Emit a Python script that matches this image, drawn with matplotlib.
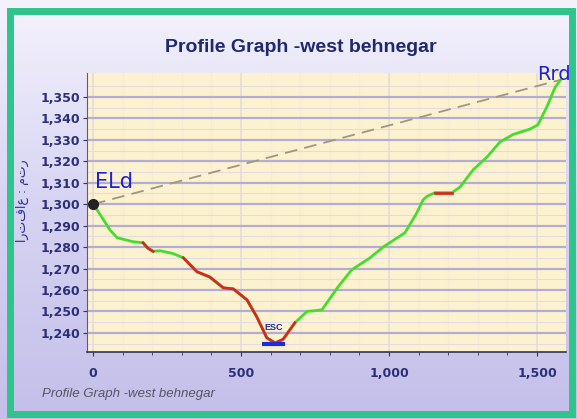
import numpy as np
import matplotlib
matplotlib.use("Agg")
import matplotlib.pyplot as plt
from matplotlib.patches import Rectangle

# profile data (distance in m, elevation in m)
dist = [0, 20, 57, 81, 135, 169, 185, 203, 226, 270, 305, 351, 395, 440, 474,
        520, 553, 587, 615, 642, 682, 723, 773, 828, 874, 936, 980, 1054, 1094,
        1115, 1128, 1155, 1213, 1240, 1284, 1331, 1375, 1419, 1476, 1503, 1534,
        1561, 1580]
elev = [1300, 1296, 1288, 1284.4, 1282.5, 1282, 1279.5, 1278, 1278.3, 1277,
        1275, 1268.5, 1266, 1261, 1260.5, 1255.4, 1247.5, 1237.7, 1235.3, 1237,
        1244.7, 1250, 1250.7, 1261.5, 1269.4, 1275, 1280, 1286.7, 1296, 1302,
        1303.6, 1305.4, 1305.4, 1308, 1316, 1322, 1329, 1332.5, 1335, 1337,
        1345.6, 1354.5, 1358]
# index ranges drawn in red (steep parts)
red_ranges = [(5, 7), (10, 20), (31, 32)]
esc_span = [571, 649]
esc_level = 1235
yticks = [1240, 1250, 1260, 1270, 1280, 1290, 1300, 1310, 1320, 1330, 1340, 1350]
xticks = [0, 500, 1000, 1500]

title = "Profile Graph -west behnegar"
ylabel = "ارتفاع : متر"

plt.rcParams['font.family'] = ['Liberation Sans', 'DejaVu Sans']

fig = plt.figure(figsize=(5.77, 4.19), dpi=100)

# background gradient
bg = fig.add_axes([0, 0, 1, 1], zorder=-10)
grad = np.linspace(0, 1, 256).reshape(-1, 1)
cmap = matplotlib.colors.LinearSegmentedColormap.from_list(
    "bg", ["#c4bfe9", "#d6d3f2", "#f4f3fc"])
bg.imshow(grad, aspect='auto', cmap=cmap, extent=[0, 1, 0, 1], origin='lower')
bg.set_xlim(0, 1)
bg.set_ylim(0, 1)
bg.axis('off')
# green frame
bg.add_patch(Rectangle((0.017, 0.012), 0.975, 0.962, fill=False,
                       edgecolor='#2fc48c', linewidth=5))

ax = fig.add_axes([0.151, 0.160, 0.830, 0.666])
ax.set_facecolor('#fdf2cf')
ax.set_xlim(-20, 1598)
ax.set_ylim(1231.1, 1361.2)

ax.set_yticks(yticks)
ax.set_yticks(np.arange(1235, 1361, 10), minor=True)
ax.set_xticks(xticks)
ax.set_xticks(np.arange(0, 1600, 100), minor=True)
ax.set_xticklabels(['{:,}'.format(v) for v in xticks])
ax.set_yticklabels(['{:,}'.format(v) for v in yticks])

ax.grid(axis='y', which='major', color='#b3acd3', linewidth=1.6)
ax.grid(axis='y', which='minor', color='#e3dbe0', linewidth=0.8)
ax.grid(axis='x', which='major', color='#e9e0d6', linewidth=1.4)
ax.grid(axis='x', which='minor', color='#f6ecd2', linewidth=1.0)
ax.set_axisbelow(True)

for s in ['top', 'right']:
    ax.spines[s].set_visible(False)
ax.spines['left'].set_color('#5a5a8a')
ax.spines['bottom'].set_color('#333355')
ax.spines['bottom'].set_linewidth(1.2)
ax.tick_params(axis='both', which='major', labelsize=9, labelcolor='#2b2f7a',
               color='#333355', length=3)
ax.tick_params(axis='y', which='minor', length=0)
ax.tick_params(axis='y', pad=2)
ax.tick_params(axis='x', which='minor', length=2, color='#333355')
ax.tick_params(axis='x', pad=8)
for lab in ax.get_xticklabels() + ax.get_yticklabels():
    lab.set_fontweight('bold')
    lab.set_family('DejaVu Sans')

# straight line between end points
ax.plot([dist[0], dist[-1]], [elev[0], elev[-1]], color='#a09680',
        linestyle=(0, (7, 4)), linewidth=1.3, zorder=2)

# profile
ax.plot(dist, elev, color='#44dd2e', linewidth=2, zorder=3)
for a, b in red_ranges:
    ax.plot(dist[a:b + 1], elev[a:b + 1], color='#d42b1e', linewidth=2, zorder=4)

ax.plot(esc_span, [esc_level, esc_level], color='#1a2ee0', linewidth=3,
        solid_capstyle='butt', zorder=5)
ax.text(sum(esc_span) / 2, esc_level + 5.5, "ESC", color='#1a2ea8', fontsize=6.5,
        fontweight='bold', ha='center', va='bottom')

ax.plot(dist[0], elev[0], 'o', color='#222222', markersize=7, zorder=6,
        clip_on=False)
ax.text(8, 1305.5, "ELd", color='#1a22d8', fontsize=15, ha='left', va='bottom',
        family='DejaVu Sans')
ax.text(1500, 1356, "Rrd", color='#1a22d8', fontsize=14, ha='left',
        va='bottom', family='DejaVu Sans', clip_on=False)

fig.text(0.522, 0.887, title, color='#1f2870', fontsize=14,
         fontweight='bold', ha='center', va='center')
fig.text(0.073, 0.06, title, color='#555566', fontsize=9.5, style='italic',
         ha='left', va='center')
fig.text(0.038, 0.52, ylabel, color='#2b2f9a', fontsize=9, rotation=90,
         ha='center', va='center', family=['DejaVu Sans'])

fig.savefig('out.png', dpi=100)
